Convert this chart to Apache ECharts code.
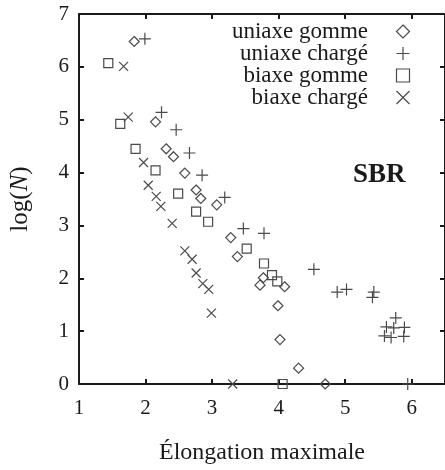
<!DOCTYPE html>
<html>
<head>
<meta charset="utf-8">
<script src="https://cdn.jsdelivr.net/npm/echarts@6/dist/echarts.min.js"></script>
<style>
  html, body { margin: 0; padding: 0; background: #fff; }
  #chart { width: 445px; height: 470px; }
</style>
</head>
<body>
<div id="chart"></div>
<script>
// données : [élongation maximale, log(N)]
var uniaxeGomme = [
  [1.83, 6.48], [2.15, 4.96], [2.31, 4.45], [2.42, 4.30], [2.59, 3.99], [2.76, 3.67],
  [2.83, 3.51], [3.07, 3.39], [3.28, 2.77], [3.38, 2.41], [3.77, 2.01], [3.72, 1.87],
  [4.09, 1.84], [3.99, 1.48], [4.02, 0.84], [4.30, 0.30], [4.70, 0]
];
var uniaxeCharge = [
  [1.99, 6.53], [2.24, 5.14], [2.46, 4.81], [2.66, 4.37], [2.85, 3.95], [3.19, 3.53],
  [3.47, 2.94], [3.78, 2.85], [4.53, 2.17], [4.88, 1.74], [5.02, 1.79], [5.43, 1.74],
  [5.41, 1.64], [5.76, 1.25], [5.62, 1.08], [5.73, 1.06], [5.89, 1.07], [5.59, 0.91],
  [5.69, 0.88], [5.88, 0.90], [5.94, 0]
];
var biaxeGomme = [
  [1.44, 6.07], [1.62, 4.92], [1.85, 4.45], [2.15, 4.04], [2.49, 3.60], [2.76, 3.26],
  [2.94, 3.07], [3.52, 2.56], [3.78, 2.28], [3.90, 2.06], [3.98, 1.94], [4.06, 0]
];
var biaxeCharge = [
  [1.67, 6.01], [1.74, 5.05], [1.97, 4.19], [2.04, 3.76], [2.16, 3.55], [2.23, 3.36],
  [2.40, 3.04], [2.59, 2.52], [2.70, 2.36], [2.76, 2.10], [2.86, 1.90], [2.95, 1.79],
  [2.99, 1.34], [3.31, 0]
];
var seriesNames = ['uniaxe gomme', 'uniaxe chargé', 'biaxe gomme', 'biaxe chargé'];
var xLabel = 'Élongation maximale';
var yLabel = '{a|log(}{i|N}{a|)}';
var annotation = 'SBR';

var SERIF = '"Liberation Serif", "Times New Roman", serif';
var INK = '#1a1a1a';
var MARK = '#4a4a4a';

// tous en path pour garder les proportions dans la légende
var symbols = [
  { symbol: 'path://M5,0L10,5L5,10L0,5Z', size: 10 },
  { symbol: 'path://M0,5L10,5M5,0L5,10', size: 12 },
  { symbol: 'path://M0,0L10,0L10,10L0,10Z', size: 9 },
  { symbol: 'path://M0,0L10,10M10,0L0,10', size: 9 }
];
var datasets = [uniaxeGomme, uniaxeCharge, biaxeGomme, biaxeCharge];

var chart = echarts.init(document.getElementById('chart'), null, { renderer: 'canvas' });

function axisStyle() {
  return {
    axisLine: { show: true, onZero: false, lineStyle: { color: INK, width: 2 } },
    axisTick: { show: true, inside: true, length: 5, lineStyle: { color: INK, width: 2 } },
    splitLine: { show: false }
  };
}

function xAx(pos, showLabels) {
  return Object.assign(axisStyle(), {
    type: 'value', position: pos, min: 1, max: 6.5, interval: 1,
    axisLabel: {
      show: showLabels, margin: 14, color: INK, fontFamily: SERIF, fontSize: 21,
      showMaxLabel: false
    },
    name: showLabels ? xLabel : '',
    nameLocation: 'middle', nameGap: 57,
    nameTextStyle: { color: INK, fontFamily: SERIF, fontSize: 24 }
  });
}
function yAx(pos, showLabels) {
  return Object.assign(axisStyle(), {
    type: 'value', position: pos, min: 0, max: 7, interval: 1,
    axisLabel: { show: showLabels, margin: 10, color: INK, fontFamily: SERIF, fontSize: 21 },
    name: showLabels ? yLabel : '',
    nameLocation: 'middle', nameGap: 46,
    nameTextStyle: {
      color: INK, fontFamily: SERIF, fontSize: 25,
      rich: {
        a: { color: INK, fontFamily: SERIF, fontSize: 25 },
        i: { color: INK, fontFamily: SERIF, fontSize: 25, fontStyle: 'italic' }
      }
    }
  });
}

// une légende par ligne pour aligner les textes à droite
var legendRows = [31, 53, 75, 97];
var legends = seriesNames.map(function (n, k) {
  return {
    data: [n],
    right: 33, top: legendRows[k] - 11,
    orient: 'vertical', align: 'right',
    padding: 0, itemWidth: 60, itemHeight: 13,
    selectedMode: false,
    itemStyle: { borderWidth: 1.2 },
    textStyle: { color: INK, fontFamily: SERIF, fontSize: 23, lineHeight: 22 }
  };
});

chart.setOption({
  animation: false,
  backgroundColor: '#fff',
  grid: { left: 78, top: 14, width: 371, height: 371 },
  legend: legends,
  xAxis: [xAx('bottom', true), xAx('top', false)],
  yAxis: [yAx('left', true), yAx('right', false)],
  graphic: [{
    type: 'text', left: 353, top: 162,
    style: { text: annotation, fill: INK, font: 'bold 27px ' + SERIF }
  }],
  series: datasets.map(function (d, k) {
    return {
      name: seriesNames[k],
      type: 'scatter',
      xAxisIndex: 0, yAxisIndex: 0,
      data: d,
      symbol: symbols[k].symbol,
      symbolSize: symbols[k].size,
      itemStyle: { color: 'none', borderColor: MARK, borderWidth: 1.2, opacity: 1 },
      emphasis: { disabled: true }
    };
  })
});
</script>
</body>
</html>
